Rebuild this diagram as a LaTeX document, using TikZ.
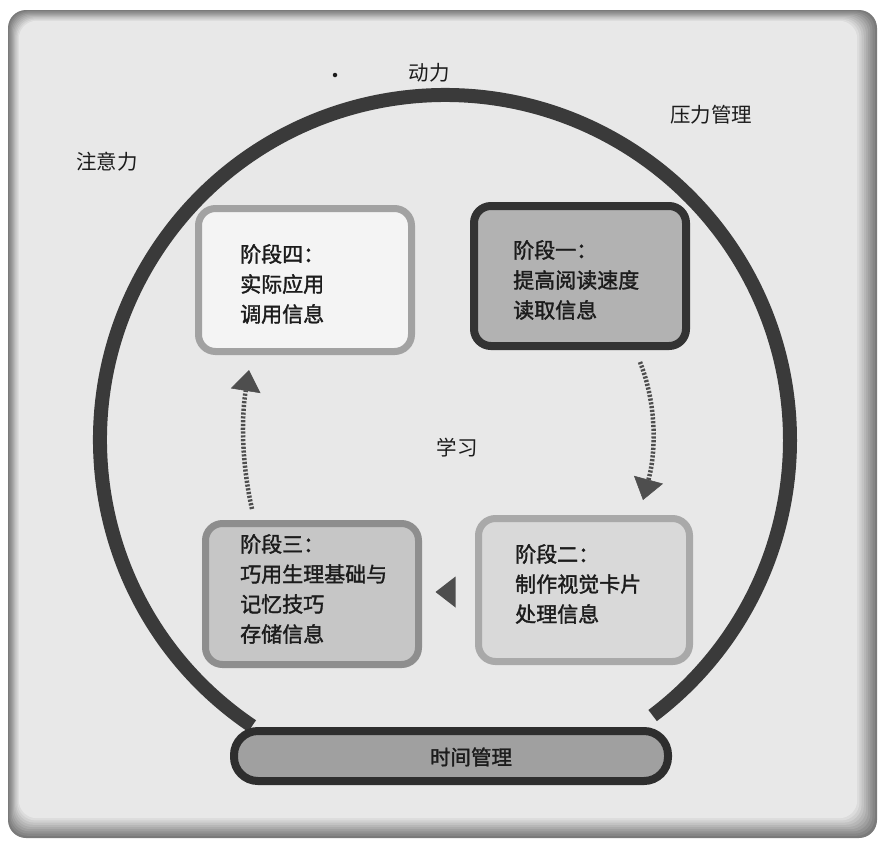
\documentclass[tikz,border=0pt]{standalone}
\usepackage{fontspec}
\newfontfamily\cjk{Noto Sans CJK SC}
\newfontfamily\cjkheavy{Noto Sans CJK SC}[FakeBold=1.6]
\usetikzlibrary{arrows.meta,calc}
\definecolor{bgedge}{HTML}{7A7A7A}
\definecolor{bgfill}{HTML}{E8E8E8}
\definecolor{ink}{HTML}{1C1C1C}
\definecolor{circ}{HTML}{3A3A3A}
\definecolor{arrowgray}{HTML}{4E4E4E}
\definecolor{s1edge}{HTML}{333333}
\definecolor{s1fill}{HTML}{B2B2B2}
\definecolor{s2edge}{HTML}{A9A9A9}
\definecolor{s2fill}{HTML}{D9D9D9}
\definecolor{s3edge}{HTML}{8E8E8E}
\definecolor{s3fill}{HTML}{C6C6C6}
\definecolor{s4edge}{HTML}{A2A2A2}
\definecolor{s4fill}{HTML}{F4F4F4}
\definecolor{timeedge}{HTML}{2E2E2E}
\definecolor{timefill}{HTML}{A0A0A0}
\begin{document}
\begin{tikzpicture}[x=1pt,y=-1pt,
  lbl/.style={font={\cjk\fontsize{20.5}{24}\selectfont}, text=ink, inner sep=0pt},
  stagebox/.style={rounded corners=17pt, line width=7pt, inner sep=0pt},
  stagetext/.style={font={\cjkheavy\fontsize{21}{30}\selectfont}, text=ink, align=left, anchor=west, inner sep=0pt},
  flowline/.style={line width=4.5pt, draw=arrowgray, dash pattern=on 2.2pt off 1.6pt,
    -{Triangle[length=21pt,width=30pt,line width=0.5pt,fill=arrowgray]}},
  bigring/.style={line width=14pt, draw=circ},
]
\useasboundingbox (0,0) rectangle (883,847);
\fill[white] (0,0) rectangle (883,847);
% page background with darker edge
\foreach \i in {0,...,9}{
  \pgfmathsetmacro{\p}{\i*11.11}
  \fill[bgfill!\p!bgedge, rounded corners=18pt] (8+1.2*\i, 10+1.2*\i) rectangle (877-2.2*\i, 838-2.2*\i);
}
% big ring
\coordinate (ringc) at (445,440);
\draw[bigring] (ringc) ++(124:345) arc[start angle=124, end angle=413, radius=345];
% stage boxes
\node[stagebox, draw=s4edge, fill=s4fill, minimum width=213pt, minimum height=143pt] (s4) at (305,280) {};
\node[stagetext] (s4t) at (240,284) {阶段四：\\实际应用\\调用信息};
\node[stagebox, line width=8pt, draw=s1edge, fill=s1fill, minimum width=212pt, minimum height=140pt] (s1) at (580,276) {};
\node[stagetext] (s1t) at (513,280) {阶段一：\\提高阅读速度\\读取信息};
\node[stagebox, draw=s3edge, fill=s3fill, minimum width=213pt, minimum height=141pt] (s3) at (312,594) {};
\node[stagetext] (s3t) at (240,589) {阶段三：\\巧用生理基础与\\记忆技巧\\存储信息};
\node[stagebox, draw=s2edge, fill=s2fill, minimum width=211pt, minimum height=143pt] (s2) at (584,590) {};
\node[stagetext] (s2t) at (515,584) {阶段二：\\制作视觉卡片\\处理信息};
% time management bar
\node[rounded corners=24pt, line width=8pt, draw=timeedge, fill=timefill, minimum width=434pt, minimum height=50pt, inner sep=0pt] (tm) at (451,756) {};
\node[lbl, font={\cjkheavy\fontsize{20.5}{24}\selectfont}] (tmt) at (471,757) {时间管理};
% outer labels
\node[circle, fill=ink, inner sep=0pt, minimum size=4.5pt] (dot) at (335,75) {};
\node[lbl] (dongli) at (429,73) {动力};
\node[lbl] (yali) at (711,115) {压力管理};
\node[lbl] (zhuyi) at (107,162) {注意力};
\node[lbl] (xuexi) at (457,448) {学习};
% flow arrows
\coordinate (r1) at ($(s1.south)+(60,12)$);
\coordinate (r2) at (643,500);
\draw[flowline] (r1) .. controls (657,405) and (656,452) .. (r2);
\coordinate (l1) at ($(s3.north)+(-60,-11)$);
\coordinate (l2) at (249,370);
\draw[flowline] (l1) .. controls (242,465) and (241,420) .. (l2);
\path (s3.east) -- (s2.west) coordinate[midway] (mid);
\fill[arrowgray] ($(mid)+(7,-15.5)$) -- ($(mid)+(-13,0)$) -- ($(mid)+(7,15.5)$) -- cycle;
\end{tikzpicture}
\end{document}
